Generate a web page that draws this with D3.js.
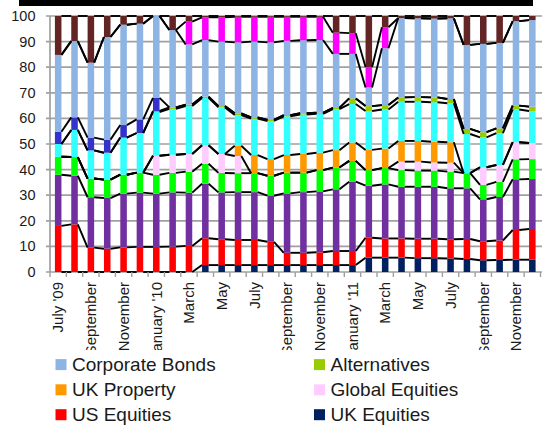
<!DOCTYPE html>
<html><head><meta charset="utf-8">
<script src="https://cdn.jsdelivr.net/npm/d3@7"></script>
<style>body{margin:0;background:#fff}svg{display:block}</style>
</head><body><svg id="c" width="542" height="427"></svg>
<script>
const categories = ["2009-07","2009-08","2009-09","2009-10","2009-11","2009-12","2010-01","2010-02","2010-03","2010-04","2010-05","2010-06","2010-07","2010-08","2010-09","2010-10","2010-11","2010-12","2011-01","2011-02","2011-03","2011-04","2011-05","2011-06","2011-07","2011-08","2011-09","2011-10","2011-11","2011-12"];
const tickLabels = ["July '09","","September","","November","","January '10","","March","","May","","July","","September","","November","","January '11","","March","","May","","July","","September","","November",""];
const yTicks = [0,10,20,30,40,50,60,70,80,90,100];

const ukEquities       = [0,0,0,0,0,0,0,0,0,2.7,2.7,2.7,2.7,2.7,2.7,2.7,2.7,2.7,2.7,5.6,5.6,5.6,5.4,5.4,5.3,5.1,4.6,4.7,4.8,4.8];
const usEquities       = [18,18.6,9.5,9.1,9.6,9.8,9.8,9.9,10.2,10.5,10.1,9.8,9.8,9.1,4.8,4.8,5,5.5,5.5,7.8,7.5,7.5,7.6,7.6,7.5,7.8,7.4,7.6,11.6,12];
const europeanEquities = [20,19,19.7,19.8,21,21.2,20.8,21.2,20.8,21.3,18.3,18.7,18.7,18,23.2,23.7,23.8,24.1,27.1,20.3,21.1,20.2,20.3,20.3,19.9,19.8,16.4,17,19.8,19.5];
const emergingMarkets  = [7,7.3,7.3,7.2,7.4,7.8,7.4,7.6,8.2,7.8,7.6,7.4,7.4,7.8,8.1,7.6,8.3,8.5,8.1,6.1,6.4,6.5,6.3,6.3,6.5,5.9,5.6,5.9,7.8,7.8];
const globalEquities   = [0,0,0,0,0,0,7.4,7.1,6.9,7.2,7.4,6.7,0,0,0,0,0,0,0,0,0,3.3,3.5,3.2,3.5,0,6.9,6.6,6.7,6.3];
const ukProperty       = [0,0,0,0,0,0,0,0,0,0,0,4,7.1,6.5,6.9,7.3,6.8,6.8,7.2,7.9,7.6,8.1,8.1,8.1,8,0,0,0,0,0];
const gilts            = [5,10.6,11,10.5,14.5,15.5,17.1,17.9,18.7,18.5,18.2,12,14.2,14.9,15.1,15.4,15.2,16,15,15.2,15.3,15.3,15.3,15.4,15.2,15.3,11.7,12.4,12.8,12.5];
const alternatives     = [0,0,0,0,0,0,0.4,0.6,0.6,0.5,0.5,0.7,0.5,0.4,0.5,0.5,0.4,0.5,2.2,1.9,1.7,1.7,1.8,1.9,1.7,2,2,1.9,1.5,1.7];
const indexLinked      = [4.8,4.9,5,5.1,4.9,5.3,5.1,0,0,0,0,0,0,0,0,0,0,0,0,0,0,0,0,0,0,0,0,0,0,0];
const corporateBonds   = [30,29.8,29.3,40.1,39.2,37.4,32,30.2,23.5,22.1,25.2,27.7,29.6,30.3,29,28.5,28.4,21.1,17.4,7.3,22.2,31,30.8,30.8,31.5,32.8,34.5,33.4,33,33.8];
const cash             = [0,0,0,0,0,0,0,0,8.9,8.9,9.5,10,9.7,10,9.4,9.2,9.1,8.3,8.1,8,8.2,0,0,0,0,0,0,0,0,0];
const other            = [15.2,9.8,18.2,8.2,3.4,3,0,5.5,2.2,0.5,0.5,0.3,0.3,0.3,0.3,0.3,0.3,6.5,6.7,19.9,4.4,0.8,0.9,1,0.9,11.3,10.9,10.5,2,1.6];

const seriesNames  = ["UK Equities","US Equities","European Equities","Emerging Markets","Global Equities","UK Property","Gilts","Alternatives","Index-Linked Gilts","Corporate Bonds","Cash","Other"];
const seriesValues = [ukEquities,usEquities,europeanEquities,emergingMarkets,globalEquities,ukProperty,gilts,alternatives,indexLinked,corporateBonds,cash,other];
const seriesColors = ["#002060","#FF0000","#7030A0","#00FF00","#FFCCFF","#FF9900","#33FFFF","#99CC00","#3333CC","#8DB4E2","#FF00FF","#632523"];
const legendItems = [["Corporate Bonds","Alternatives"],["UK Property","Global Equities"],["US Equities","UK Equities"]];

const rows = categories.map((c,i)=>{const o={cat:c};seriesNames.forEach((s,j)=>o[s]=seriesValues[j][i]);return o;});
const stacked = d3.stack().keys(seriesNames)(rows);

const svg = d3.select("#c");
const font = "'Liberation Sans', Arial, sans-serif";
const x = d3.scaleBand().domain(categories).range([50,540.5]).paddingInner(0.6).paddingOuter(0.3);
const y = d3.scaleLinear().domain([0,100]).range([272,16]);
const step = x.step();

svg.append("rect").attr("x",19).attr("y",0).attr("width",514).attr("height",6).attr("fill","#000");

// gridlines
svg.append("g").selectAll("line").data(yTicks).join("line")
  .attr("x1",46).attr("x2",542).attr("y1",d=>y(d)).attr("y2",d=>y(d))
  .attr("stroke","#a0a0a0").attr("stroke-width",1.7);

// bars
const color = d3.scaleOrdinal().domain(seriesNames).range(seriesColors);
svg.append("g").selectAll("g").data(stacked).join("g").attr("fill",d=>color(d.key))
  .selectAll("rect").data(d=>d).join("rect")
  .attr("x",d=>x(d.data.cat)).attr("width",x.bandwidth())
  .attr("y",d=>y(d[1])).attr("height",d=>Math.max(0,y(d[0])-y(d[1])));

// series lines
const segs=[];
stacked.forEach(layer=>{
  for(let i=0;i<layer.length-1;i++){
    segs.push({x1:x(categories[i])+x.bandwidth(),y1:y(layer[i][1]),x2:x(categories[i+1]),y2:y(layer[i+1][1])});
  }
});
svg.append("g").selectAll("line").data(segs).join("line")
  .attr("x1",d=>d.x1).attr("y1",d=>d.y1).attr("x2",d=>d.x2).attr("y2",d=>d.y2)
  .attr("stroke","#000").attr("stroke-width",1.9);

// y axis
svg.append("line").attr("x1",50).attr("x2",50).attr("y1",16).attr("y2",272).attr("stroke","#a0a0a0").attr("stroke-width",1.7);
svg.append("g").selectAll("text").data(yTicks).join("text")
  .attr("x",35.5).attr("y",d=>y(d)).attr("dy","0.35em").attr("text-anchor","end")
  .attr("font-family",font).attr("font-size",14.5).attr("fill","#1a1a1a").text(d=>d);

// x axis ticks
svg.append("g").selectAll("line").data(d3.range(31)).join("line")
  .attr("x1",d=>50+d*step).attr("x2",d=>50+d*step).attr("y1",272).attr("y2",277)
  .attr("stroke","#a0a0a0").attr("stroke-width",1.4);
svg.append("g").selectAll("text").data(categories).join("text")
  .attr("transform",d=>`translate(${x(d)+x.bandwidth()/2},282) rotate(-90)`)
  .attr("dy","0.35em").attr("text-anchor","end")
  .attr("font-family",font).attr("font-size",15).attr("fill","#1a1a1a")
  .text((d,i)=>tickLabels[i]);

// legend (white box)
svg.append("rect").attr("x",40).attr("y",350).attr("width",502).attr("height",77).attr("fill","#fff");
const lg = svg.append("g");
legendItems.forEach((row,r)=>{
  row.forEach((name,c)=>{
    const lx = c===0?55.5:314, ly = [364.6,389.8,414.7][r];
    lg.append("rect").attr("x",lx).attr("y",ly-5.5).attr("width",11).attr("height",11).attr("fill",color(name));
    lg.append("text").attr("x",lx+16.5).attr("y",ly).attr("dy","0.35em")
      .attr("font-family",font).attr("font-size",19).attr("fill","#1a1a1a").text(name);
  });
});
</script></body></html>
